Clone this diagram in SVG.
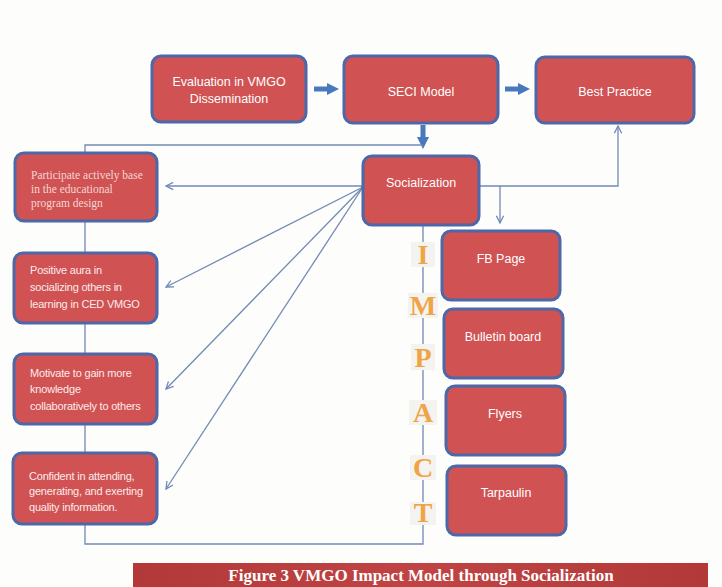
<svg xmlns="http://www.w3.org/2000/svg" width="722" height="587" viewBox="0 0 722 587">
<defs>
<style>
.box{fill:#d05252;stroke:#4d68a8;stroke-width:3}
.lbl{font-family:"Liberation Sans",Arial,sans-serif;font-size:12.5px;fill:#ffffff;text-anchor:middle}
.sm{font-family:"Liberation Sans",Arial,sans-serif;font-size:11px;fill:#fbecec;letter-spacing:-0.2px}
.ser{font-family:"Liberation Serif","Times New Roman",serif;font-size:11.5px;fill:#f3d6d6}
.ln{fill:none;stroke:#7389b6;stroke-width:1.3}
.thick{fill:none;stroke:#4a78bd;stroke-width:5}
.imp{font-family:"Liberation Serif","Times New Roman",serif;font-size:28px;font-weight:bold;fill:#f0a448;text-anchor:middle}
.impbg{fill:#f4f3ef}
</style>
<linearGradient id="capg" x1="0" y1="0" x2="1" y2="0">
<stop offset="0" stop-color="#b33838"/>
<stop offset="0.5" stop-color="#c04444"/>
<stop offset="1" stop-color="#b33838"/>
</linearGradient>
<marker id="open" viewBox="0 0 10 10" refX="9" refY="5" markerWidth="9" markerHeight="9" markerUnits="userSpaceOnUse" orient="auto">
<path d="M1,1 L9,5 L1,9" fill="none" stroke="#6f86b8" stroke-width="1.4"/>
</marker>
<marker id="solid" viewBox="0 0 10 10" refX="5" refY="5" markerWidth="12" markerHeight="12" markerUnits="userSpaceOnUse" orient="auto">
<path d="M0,0 L10,5 L0,10 Z" fill="#4a78bd"/>
</marker>
</defs>
<rect width="722" height="587" fill="#fdfdfb"/>

<g id="connectors">
<line class="thick" x1="314" y1="89" x2="333" y2="89" marker-end="url(#solid)"/>
<line class="thick" x1="505" y1="89" x2="524" y2="89" marker-end="url(#solid)"/>
<line class="thick" x1="423" y1="125" x2="423" y2="143" marker-end="url(#solid)"/>
<polyline class="ln" points="423,145 85,145 85,544 423,544 423,225"/>
<line class="ln" x1="363" y1="186" x2="166" y2="186" marker-end="url(#open)"/>
<line class="ln" x1="363" y1="187" x2="166" y2="287" marker-end="url(#open)"/>
<line class="ln" x1="363" y1="187" x2="166" y2="389" marker-end="url(#open)"/>
<line class="ln" x1="363" y1="187" x2="166" y2="489" marker-end="url(#open)"/>
<polyline class="ln" points="479,186 618,186 618,126" marker-end="url(#open)"/>
<line class="ln" x1="500" y1="186" x2="500" y2="223" marker-end="url(#open)"/>
</g>

<g id="impact">
<rect class="impbg" x="411" y="242" width="24" height="25"/>
<rect class="impbg" x="408" y="293" width="30" height="25"/>
<rect class="impbg" x="411" y="344" width="24" height="26"/>
<rect class="impbg" x="409" y="400" width="28" height="25"/>
<rect class="impbg" x="410" y="455" width="26" height="25"/>
<rect class="impbg" x="410" y="502" width="26" height="23"/>
<text class="imp" x="423" y="264">I</text>
<text class="imp" x="423" y="315">M</text>
<text class="imp" x="423" y="367">P</text>
<text class="imp" x="423" y="422">A</text>
<text class="imp" x="423" y="477">C</text>
<text class="imp" x="423" y="522">T</text>
</g>

<g id="evaluation">
<rect class="box" x="152" y="56" width="154" height="66" rx="9"/>
<text class="lbl" x="229" y="86">Evaluation in VMGO</text>
<text class="lbl" x="229" y="103">Dissemination</text>
</g>
<g id="seci">
<rect class="box" x="344" y="56" width="154" height="67" rx="9"/>
<text class="lbl" x="421" y="96">SECI Model</text>
</g>
<g id="best-practice">
<rect class="box" x="536" y="57" width="158" height="66" rx="9"/>
<text class="lbl" x="615" y="96">Best Practice</text>
</g>
<g id="socialization">
<rect class="box" x="363" y="156" width="116" height="69" rx="9"/>
<text class="lbl" x="421" y="187">Socialization</text>
</g>

<g id="participate">
<rect class="box" x="15" y="153" width="142" height="68" rx="9"/>
<text class="ser" x="31" y="179">Participate actively base</text>
<text class="ser" x="31" y="193">in the educational</text>
<text class="ser" x="31" y="207">program design</text>
</g>
<g id="positive">
<rect class="box" x="14" y="253" width="143" height="70" rx="9"/>
<text class="sm" x="30" y="274">Positive aura in</text>
<text class="sm" x="30" y="291">socializing others in</text>
<text class="sm" x="30" y="308">learning in CED VMGO</text>
</g>
<g id="motivate">
<rect class="box" x="14" y="354" width="143" height="70" rx="9"/>
<text class="sm" x="30" y="377">Motivate to gain more</text>
<text class="sm" x="30" y="393">knowledge</text>
<text class="sm" x="30" y="410">collaboratively to others</text>
</g>
<g id="confident">
<rect class="box" x="13" y="453" width="144" height="71" rx="9"/>
<text class="sm" x="29" y="480">Confident in attending,</text>
<text class="sm" x="29" y="495">generating, and exerting</text>
<text class="sm" x="29" y="511">quality information.</text>
</g>

<g id="fb-page">
<rect class="box" x="442" y="231" width="118" height="69" rx="9"/>
<text class="lbl" x="501" y="263">FB Page</text>
</g>
<g id="bulletin">
<rect class="box" x="444" y="309" width="119" height="69" rx="9"/>
<text class="lbl" x="503" y="341">Bulletin board</text>
</g>
<g id="flyers">
<rect class="box" x="446" y="386" width="119" height="69" rx="9"/>
<text class="lbl" x="505" y="418">Flyers</text>
</g>
<g id="tarpaulin">
<rect class="box" x="447" y="466" width="119" height="69" rx="9"/>
<text class="lbl" x="506" y="497">Tarpaulin</text>
</g>

<g id="caption">
<rect x="133" y="563" width="575" height="24" fill="url(#capg)"/>
<text x="421" y="581" font-family="'Liberation Serif','Times New Roman',serif" font-size="17" font-weight="bold" fill="#ffffff" text-anchor="middle">Figure 3 VMGO Impact Model through Socialization</text>
</g>
</svg>
